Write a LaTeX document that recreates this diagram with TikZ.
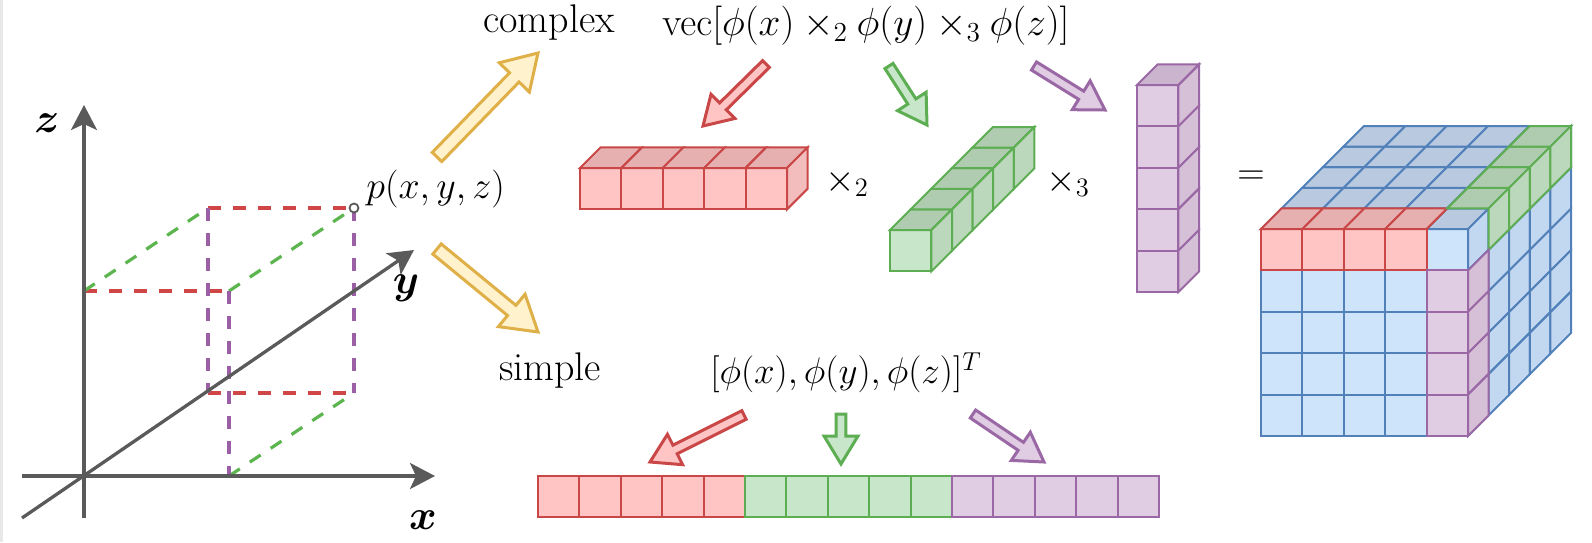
\RequirePackage{fix-cm}
\documentclass[tikz,border=0pt]{standalone}
\usepackage{amsmath}
\usetikzlibrary{calc,arrows.meta}
\definecolor{axgray}{HTML}{5A5A5A}
\definecolor{dred}{HTML}{D04545}
\definecolor{dgrn}{HTML}{5DB550}
\definecolor{dpur}{HTML}{9A5FA5}
\definecolor{redD}{HTML}{C94747}
\definecolor{redF}{HTML}{FFC4C4}
\definecolor{redT}{HTML}{E6B0B0}
\definecolor{redS}{HTML}{F4BDBD}
\definecolor{grnD}{HTML}{5DAE52}
\definecolor{grnF}{HTML}{C8E6C9}
\definecolor{grnT}{HTML}{B0CCB0}
\definecolor{grnS}{HTML}{BCD8BC}
\definecolor{purD}{HTML}{9A68A5}
\definecolor{purF}{HTML}{E1CDE3}
\definecolor{purT}{HTML}{CBB4CD}
\definecolor{purS}{HTML}{D6C0D8}
\definecolor{bluD}{HTML}{5281BA}
\definecolor{bluF}{HTML}{CDE4FB}
\definecolor{bluT}{HTML}{B8C9E0}
\definecolor{bluS}{HTML}{C2D7F0}
\definecolor{yelD}{HTML}{E0B048}
\definecolor{yelF}{HTML}{FFF2CC}
\def\cellsz{41.4}
\def\celldp{20.6}
\newcommand{\fcell}[5]{\draw[#1] ({#2+(#4-1)*\cellsz},{#3+(#5-1)*\cellsz}) rectangle ({#2+#4*\cellsz},{#3+#5*\cellsz});}
\newcommand{\tcell}[5]{\draw[#1] ({#2+(#4-1)*\cellsz+(#5-1)*\celldp},{#3-(#5-1)*\celldp}) -- ({#2+#4*\cellsz+(#5-1)*\celldp},{#3-(#5-1)*\celldp}) -- ({#2+#4*\cellsz+#5*\celldp},{#3-#5*\celldp}) -- ({#2+(#4-1)*\cellsz+#5*\celldp},{#3-#5*\celldp}) -- cycle;}
\newcommand{\rcell}[6]{\draw[#1] ({#2+#4+(#5-1)*\celldp},{#3+(#6-1)*\cellsz-(#5-1)*\celldp}) -- ({#2+#4+#5*\celldp},{#3+(#6-1)*\cellsz-#5*\celldp}) -- ({#2+#4+#5*\celldp},{#3+#6*\cellsz-#5*\celldp}) -- ({#2+#4+(#5-1)*\celldp},{#3+#6*\cellsz-(#5-1)*\celldp}) -- cycle;}
\newcommand{\blockarr}[6]{%
  \path ($(#3)!#6!(#2)$) coordinate (ba-h);
  \draw[#1] ($(#2)!#4!90:(#3)$) -- ($(ba-h)!#4!-90:(#2)$) -- ($(ba-h)!#5!-90:(#2)$) -- (#3) -- ($(ba-h)!#5!90:(#2)$) -- ($(ba-h)!#4!90:(#2)$) -- ($(#2)!#4!-90:(#3)$) -- cycle;}
\begin{document}
\begin{tikzpicture}[x=0.5pt,y=-0.5pt,
  axis/.style={line width=1.65pt, draw=axgray, -{Stealth[length=12.5pt,width=13pt,inset=3pt]}},
  dsh/.style={line width=1.6pt, dash pattern=on 6.5pt off 6pt},
  lbl/.style={inner sep=0pt, font=\fontsize{19}{23}\selectfont},
  wlbl/.style={inner sep=0pt, font=\fontsize{20}{24}\selectfont},
  axlbl/.style={inner sep=0pt, font=\fontsize{21}{25}\selectfont},
  cR/.style={draw=redD, fill=redF, line width=1pt},
  cRt/.style={draw=redD, fill=redT, line width=1pt},
  cRs/.style={draw=redD, fill=redS, line width=1pt},
  cG/.style={draw=grnD, fill=grnF, line width=1pt},
  cGt/.style={draw=grnD, fill=grnT, line width=1pt},
  cGs/.style={draw=grnD, fill=grnS, line width=1pt},
  cP/.style={draw=purD, fill=purF, line width=1pt},
  cPt/.style={draw=purD, fill=purT, line width=1pt},
  cPs/.style={draw=purD, fill=purS, line width=1pt},
  cB/.style={draw=bluD, fill=bluF, line width=1pt},
  cBt/.style={draw=bluD, fill=bluT, line width=1pt},
  cBs/.style={draw=bluD, fill=bluS, line width=1pt},
  yarr/.style={draw=yelD, fill=yelF, line width=1.5pt},
  rarr/.style={draw=redD, fill=redF, line width=1.5pt},
  garr/.style={draw=grnD, fill=grnF, line width=1.5pt},
  parr/.style={draw=purD, fill=purF, line width=1.5pt}]
\useasboundingbox (0,0) rectangle (1592,542);
\fill[black!9] (0,0) rectangle (3,542);

% ---------- axes ----------
\coordinate (O) at (84,476);
\coordinate (zTop) at (84,105);
\coordinate (zBot) at (84,518);
\coordinate (xL) at (22,476);
\coordinate (xR) at (435,476);
\coordinate (yL) at (22,518);
\coordinate (yR) at (414,250);
\coordinate (A) at (208,208);
\coordinate (P) at (354,208);
\coordinate (B) at (229,291);
\coordinate (Zp) at (84,291);
\coordinate (Xp) at (229,476);
\coordinate (C) at (208,393);
\coordinate (D) at (354,393);

\draw[dsh, draw=dred] (Zp) -- (B);
\draw[dsh, draw=dred] (A) -- (P);
\draw[dsh, draw=dred] (C) -- (D);
\draw[dsh, draw=dgrn] (Zp) -- (A);
\draw[dsh, draw=dgrn] (B) -- (P);
\draw[dsh, draw=dgrn] (Xp) -- (D);
\draw[dsh, draw=dpur] (A) -- (C);
\draw[dsh, draw=dpur] (P) -- (D);
\draw[dsh, draw=dpur] (B) -- (Xp);

\draw[axis] (zBot) -- (zTop);
\draw[axis] (xL) -- (xR);
\draw[axis] (yL) -- (yR);
\draw[draw=axgray, fill=white, line width=0.9pt] (P) circle (4.5);

\node[axlbl] (zlab) at (47,123) {$\boldsymbol{z}$};
\node[axlbl] (ylab) at (406,288) {$\boldsymbol{y}$};
\node[axlbl] (xlab) at (423,520) {$\boldsymbol{x}$};
\node[lbl, anchor=west] (plab) at (366,189) {$p(x,y,z)$};

% ---------- texts ----------
\node[wlbl] (complex) at (549,23) {complex};
\node[lbl, font=\fontsize{19.6}{23}\selectfont] (vec) at (866,26) {$\mathrm{vec}[\phi(x)\times_2\phi(y)\times_3\phi(z)]$};
\node[wlbl] (simple) at (550,371) {simple};
\node[lbl, font=\fontsize{18.5}{22}\selectfont] (cat) at (846,373) {$[\phi(x),\phi(y),\phi(z)]^T$};
\node[lbl] (t2) at (847,183) {$\times_2$};
\node[lbl] (t3) at (1068,183) {$\times_3$};
\node[lbl] (eq) at (1251,178) {$=$};

% ---------- arrows ----------
\coordinate (ya1) at (437,157); \coordinate (yb1) at (538,53);
\coordinate (ya2) at (437,249); \coordinate (yb2) at (538,332);
\blockarr{yarr}{ya1}{yb1}{3.3pt}{10.5pt}{17pt}
\blockarr{yarr}{ya2}{yb2}{3.3pt}{10.5pt}{17pt}

\coordinate (ra1) at (766,64); \coordinate (rb1) at (703,126);
\coordinate (ga1) at (889,66); \coordinate (gb1) at (927,125);
\coordinate (pa1) at (1034,66); \coordinate (pb1) at (1105,110);
\blockarr{rarr}{ra1}{rb1}{2.4pt}{8.5pt}{14pt}
\blockarr{garr}{ga1}{gb1}{2.4pt}{8.5pt}{14pt}
\blockarr{parr}{pa1}{pb1}{2.4pt}{8.5pt}{14pt}

\coordinate (ra2) at (744,415); \coordinate (rb2) at (650,462);
\coordinate (ga2) at (841,414); \coordinate (gb2) at (841,464);
\coordinate (pa2) at (973,414); \coordinate (pb2) at (1044,462);
\blockarr{rarr}{ra2}{rb2}{2.4pt}{8.5pt}{14pt}
\blockarr{garr}{ga2}{gb2}{2.4pt}{8.5pt}{14pt}
\blockarr{parr}{pa2}{pb2}{2.4pt}{8.5pt}{14pt}

% ---------- red bar ----------
\foreach \i in {1,...,5}{\fcell{cR}{580}{168}{\i}{1}\tcell{cRt}{580}{168}{\i}{1}}
\rcell{cRs}{580}{168}{5*\cellsz}{1}{1}

% ---------- green bar ----------
\fcell{cG}{890}{230}{1}{1}
\foreach \k in {1,...,5}{\tcell{cGt}{890}{230}{1}{\k}\rcell{cGs}{890}{230}{\cellsz}{\k}{1}}

% ---------- purple column ----------
\foreach \j in {1,...,5}{\fcell{cP}{1137}{85}{1}{\j}\rcell{cPs}{1137}{85}{\cellsz}{1}{\j}}
\tcell{cPt}{1137}{85}{1}{1}

% ---------- cube ----------
\foreach \i in {1,...,5}{\foreach \j in {1,...,5}{%
  \fcell{cB}{1261}{229}{\i}{\j}\tcell{cBt}{1261}{229}{\i}{\j}\rcell{cBs}{1261}{229}{5*\cellsz}{\i}{\j}}}
\foreach \i in {1,...,4}{\fcell{cR}{1261}{229}{\i}{1}\tcell{cRt}{1261}{229}{\i}{1}}
\foreach \k in {2,...,5}{\tcell{cGt}{1261}{229}{5}{\k}\rcell{cGs}{1261}{229}{5*\cellsz}{\k}{1}}
\foreach \j in {2,...,5}{\fcell{cP}{1261}{229}{5}{\j}\rcell{cPs}{1261}{229}{5*\cellsz}{1}{\j}}

% ---------- bottom bar ----------
\foreach \i in {1,...,5}{\fcell{cR}{538}{476}{\i}{1}}
\foreach \i in {6,...,10}{\fcell{cG}{538}{476}{\i}{1}}
\foreach \i in {11,...,15}{\fcell{cP}{538}{476}{\i}{1}}
\end{tikzpicture}
\end{document}
